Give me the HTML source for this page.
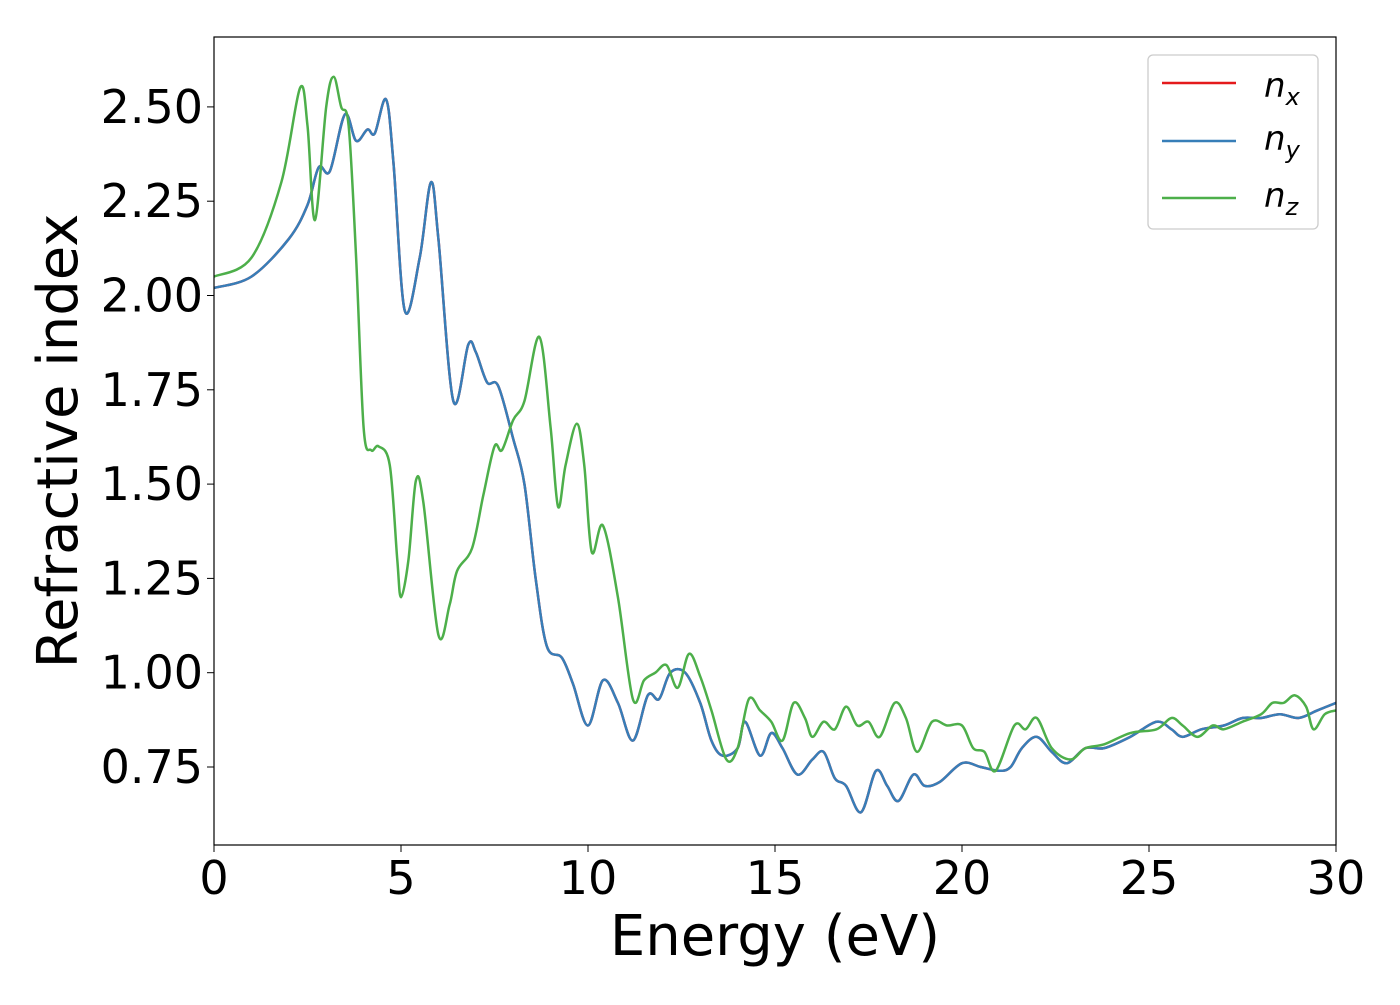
<!DOCTYPE html>
<html><head><meta charset="utf-8"><style>
body{margin:0;background:#fff;}
svg text{font-family:"DejaVu Sans","Liberation Sans",sans-serif;}
</style></head><body>
<svg id="chart" width="1400" height="1000" xmlns="http://www.w3.org/2000/svg">
<rect width="1400" height="1000" fill="#fff"/>
<g id="plot"></g>
<g id="axes"></g>
<text transform="translate(77,441) rotate(-90)" text-anchor="middle" font-size="56">Refractive index</text>
<text x="775" y="955" text-anchor="middle" font-size="56">Energy (eV)</text>
<g>
<rect x="1148" y="55" width="170" height="174" rx="5" fill="#fff" stroke="#ccc" stroke-width="1.3"/>
<line x1="1162" y1="83" x2="1236" y2="83" stroke="#e41a1c" stroke-width="2.5"/>
<text x="1264" y="97" font-size="34" font-style="italic">n<tspan font-size="24" dy="8">x</tspan></text>
<line x1="1162" y1="141" x2="1236" y2="141" stroke="#377eb8" stroke-width="2.5"/>
<text x="1264" y="150" font-size="34" font-style="italic">n<tspan font-size="24" dy="8">y</tspan></text>
<line x1="1162" y1="198" x2="1236" y2="198" stroke="#4daf4a" stroke-width="2.5"/>
<text x="1264" y="207" font-size="34" font-style="italic">n<tspan font-size="24" dy="8">z</tspan></text>
</g>
</svg>
<script>
const xTicks=[0,5,10,15,20,25,30];
const yTicks=[0.75,1.00,1.25,1.50,1.75,2.00,2.25,2.50];
const energyB=[0,1,2,2.5,2.8,3.1,3.5,3.8,4.1,4.3,4.6,4.8,5.1,5.5,5.8,6.0,6.4,6.8,7.0,7.3,7.6,8.0,8.3,8.6,8.9,9.3,9.6,10.0,10.4,10.8,11.2,11.6,11.9,12.2,12.6,13.0,13.3,13.6,14.0,14.2,14.6,14.9,15.2,15.6,16.0,16.3,16.6,16.9,17.3,17.7,18.0,18.3,18.7,19.0,19.4,20.0,20.5,21.0,21.3,21.6,22.0,22.4,22.8,23.3,23.8,24.5,25.2,25.6,25.9,26.4,27.0,27.5,28.0,28.5,29.0,29.5,30];
const nyVals=[2.02,2.05,2.15,2.24,2.34,2.33,2.48,2.41,2.44,2.43,2.52,2.35,1.96,2.10,2.30,2.15,1.72,1.87,1.85,1.77,1.76,1.62,1.50,1.25,1.07,1.04,0.97,0.86,0.98,0.92,0.82,0.94,0.93,1.00,1.00,0.92,0.82,0.78,0.80,0.87,0.78,0.84,0.80,0.73,0.77,0.79,0.72,0.70,0.63,0.74,0.70,0.66,0.73,0.70,0.71,0.76,0.75,0.74,0.75,0.80,0.83,0.79,0.76,0.80,0.80,0.83,0.87,0.85,0.83,0.85,0.86,0.88,0.88,0.89,0.88,0.90,0.92];
const nxVals=nyVals.slice();
const energyZ=[0,1,1.8,2.3,2.5,2.7,3.0,3.2,3.4,3.6,3.8,4.0,4.2,4.4,4.7,4.9,5.0,5.2,5.4,5.6,6.0,6.3,6.5,6.9,7.2,7.5,7.7,8.0,8.3,8.7,9.0,9.2,9.4,9.7,9.9,10.1,10.4,10.8,11.2,11.5,11.8,12.1,12.4,12.7,13.0,13.3,13.7,14.0,14.3,14.6,14.9,15.2,15.5,15.8,16.0,16.3,16.6,16.9,17.2,17.5,17.8,18.2,18.5,18.8,19.2,19.6,20.0,20.3,20.6,20.9,21.4,21.7,22.0,22.4,22.9,23.3,23.8,24.5,25.2,25.6,25.9,26.3,26.7,27.0,27.5,28.0,28.3,28.6,28.9,29.2,29.4,29.7,30];
const nzVals=[2.05,2.10,2.30,2.55,2.45,2.20,2.50,2.58,2.50,2.45,2.10,1.65,1.59,1.60,1.55,1.30,1.20,1.30,1.51,1.45,1.10,1.18,1.27,1.33,1.47,1.60,1.59,1.67,1.72,1.89,1.65,1.44,1.55,1.66,1.55,1.32,1.39,1.20,0.93,0.98,1.00,1.02,0.96,1.05,0.99,0.90,0.77,0.80,0.93,0.90,0.87,0.82,0.92,0.88,0.83,0.87,0.85,0.91,0.86,0.87,0.83,0.92,0.88,0.79,0.87,0.86,0.86,0.80,0.79,0.74,0.86,0.85,0.88,0.80,0.77,0.80,0.81,0.84,0.85,0.88,0.86,0.83,0.86,0.85,0.87,0.89,0.92,0.92,0.94,0.91,0.85,0.89,0.90];
const L=214,R=1336,T=37,B=845;
const xS=v=>L+(v-0)/30*(R-L);
const yS=v=>767-(v-0.75)/0.25*94.3;
const NS="http://www.w3.org/2000/svg";
const plot=document.getElementById('plot'),axes=document.getElementById('axes');
function path(xs,ys){
  const p=xs.map((x,i)=>[xS(x),yS(ys[i])]);
  let d="M"+p[0][0]+","+p[0][1];
  for(let i=0;i<p.length-1;i++){
    const p0=p[Math.max(0,i-1)],p1=p[i],p2=p[i+1],p3=p[Math.min(p.length-1,i+2)];
    d+=" C"+(p1[0]+(p2[0]-p0[0])/6)+","+(p1[1]+(p2[1]-p0[1])/6)+" "+(p2[0]-(p3[0]-p1[0])/6)+","+(p2[1]-(p3[1]-p1[1])/6)+" "+p2[0]+","+p2[1];
  }
  return d;
}
function series(xs,ys,color,name){
  const e=document.createElementNS(NS,'path');
  e.setAttribute('d',path(xs,ys));
  e.setAttribute('fill','none');e.setAttribute('stroke',color);e.setAttribute('stroke-width','2.5');
  
  
  plot.appendChild(e);
}
const cp=document.createElementNS(NS,'clipPath');cp.id='clip';
cp.innerHTML='<rect x="'+L+'" y="'+T+'" width="'+(R-L)+'" height="'+(B-T)+'"/>';
document.getElementById('chart').appendChild(cp);
plot.setAttribute('clip-path','url(#clip)');
series(energyB,nxVals,'#e41a1c','series-nx');
series(energyB,nyVals,'#377eb8','series-ny');
series(energyZ,nzVals,'#4daf4a','series-nz');
const fr=document.createElementNS(NS,'rect');
fr.setAttribute('x',L);fr.setAttribute('y',T);fr.setAttribute('width',R-L);fr.setAttribute('height',B-T);
fr.setAttribute('fill','none');fr.setAttribute('stroke','#000');fr.setAttribute('stroke-width','1.2');


axes.appendChild(fr);
xTicks.forEach(v=>{
  const l=document.createElementNS(NS,'line');
  l.setAttribute('x1',xS(v));l.setAttribute('x2',xS(v));l.setAttribute('y1',B);l.setAttribute('y2',B+7);l.setAttribute('stroke','#000');
  
  
  axes.appendChild(l);
  const t=document.createElementNS(NS,'text');
  t.setAttribute('x',xS(v));t.setAttribute('y',894);t.setAttribute('text-anchor','middle');t.setAttribute('font-size','46');
  t.textContent=v;
  
  
  axes.appendChild(t);
});
yTicks.forEach(v=>{
  const l=document.createElementNS(NS,'line');
  l.setAttribute('x1',L-7);l.setAttribute('x2',L);l.setAttribute('y1',yS(v));l.setAttribute('y2',yS(v));l.setAttribute('stroke','#000');
  
  
  axes.appendChild(l);
  const t=document.createElementNS(NS,'text');
  t.setAttribute('x',203);t.setAttribute('y',yS(v)+16);t.setAttribute('text-anchor','end');t.setAttribute('font-size','46');
  t.textContent=v.toFixed(2);
  
  
  axes.appendChild(t);
});
</script>
</body></html>
